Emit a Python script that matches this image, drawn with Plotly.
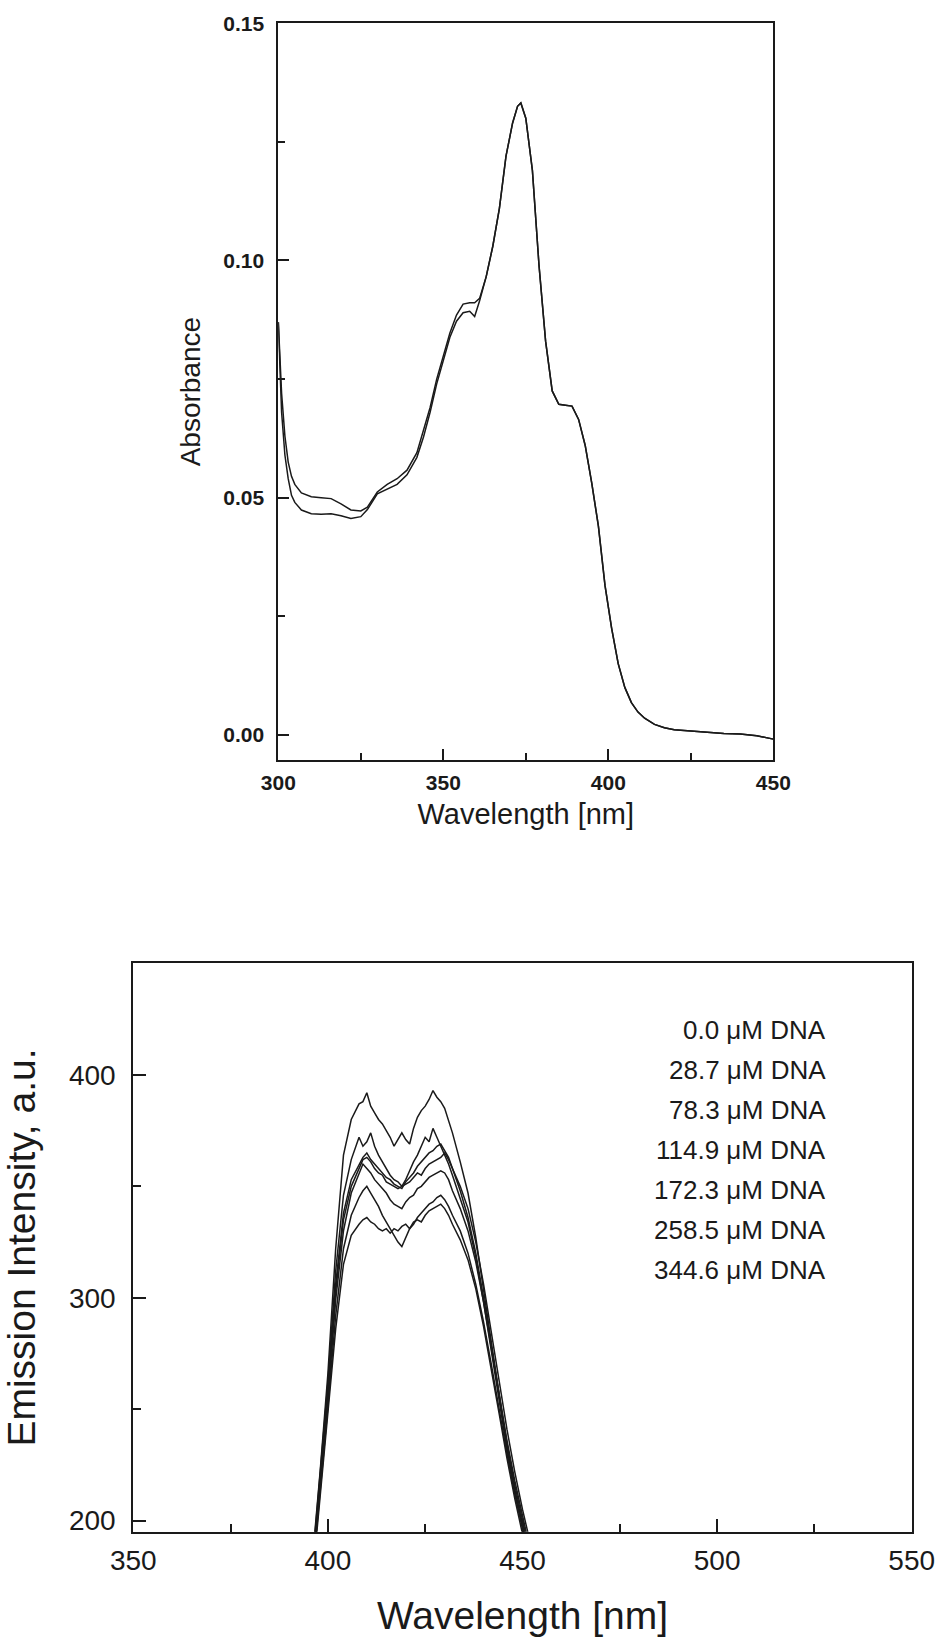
import plotly.graph_objects as go

# ---------------- Absorbance spectrum (top panel) ----------------
abs_wavelength = [300, 300.5, 301, 302, 303, 304, 305, 307, 310, 313, 316, 319, 322, 325, 327,
                  330, 333, 336, 339, 342, 344, 346, 348, 350, 352, 354, 356, 358, 359.5, 361,
                  363, 365, 367, 369, 371, 372.5, 373.5, 375, 377, 379, 381, 383, 385, 387, 389,
                  391, 393, 395, 397, 399, 401, 403, 405, 407, 409, 411, 414, 417, 420, 425,
                  430, 435, 440, 445, 450]
abs_upper = [0.087, 0.080, 0.072, 0.063, 0.0575, 0.0545, 0.0528, 0.0510, 0.0502, 0.0500, 0.0498,
             0.0487, 0.0474, 0.0472, 0.0480, 0.0512, 0.0528, 0.0540, 0.0558, 0.0595, 0.0640,
             0.0690, 0.0750, 0.0800, 0.0847, 0.0885, 0.0908, 0.0911, 0.0911, 0.0920, 0.0966,
             0.1030, 0.1110, 0.1220, 0.1290, 0.1325, 0.1332, 0.1300, 0.1190, 0.0990, 0.0830,
             0.0725, 0.0697, 0.0695, 0.0693, 0.0665, 0.0610, 0.0530, 0.0440, 0.0315, 0.0225,
             0.0150, 0.0100, 0.0068, 0.0048, 0.0035, 0.0022, 0.0015, 0.0011, 0.0008, 0.0005,
             0.0003, 0.0002, -0.0002, -0.0009]
abs_lower = [0.087, 0.077, 0.068, 0.059, 0.0540, 0.0505, 0.0490, 0.0474, 0.0466, 0.0465, 0.0466,
             0.0462, 0.0456, 0.0460, 0.0475, 0.0508, 0.0518, 0.0528, 0.0548, 0.0585, 0.0628,
             0.0680, 0.0740, 0.0792, 0.0838, 0.0872, 0.0890, 0.0893, 0.0882, 0.0915, 0.0966,
             0.1030, 0.1110, 0.1220, 0.1290, 0.1325, 0.1332, 0.1300, 0.1190, 0.0990, 0.0830,
             0.0725, 0.0697, 0.0695, 0.0693, 0.0665, 0.0610, 0.0530, 0.0440, 0.0315, 0.0225,
             0.0150, 0.0100, 0.0068, 0.0048, 0.0035, 0.0022, 0.0015, 0.0011, 0.0008, 0.0005,
             0.0003, 0.0002, -0.0002, -0.0009]

# ---------------- Emission spectra (bottom panel) ----------------
em_wavelength = [396, 398, 400, 402, 404, 406, 408, 409, 410, 411, 412, 413, 414, 415, 416, 417,
                 418, 419, 420, 421, 422, 423, 424, 425, 426, 427, 428, 429, 430, 431, 432, 434,
                 436, 438, 440, 442, 444, 446, 448, 450, 452, 455]
dna_labels = ["0.0 μM DNA", "28.7 μM DNA", "78.3 μM DNA", "114.9 μM DNA",
              "172.3 μM DNA", "258.5 μM DNA", "344.6 μM DNA"]
em_0_0 = [182, 222, 266, 322, 364, 380, 387, 388, 392, 386, 383, 380, 378, 375, 372, 368, 371,
          374, 371, 369, 376, 381, 384, 386, 389, 393, 390, 388, 385, 380, 374, 361, 347, 327,
          303, 280, 255, 233, 214, 199, 184, 160]
em_28_7 = [180, 220, 262, 312, 346, 362, 372, 368, 370, 374, 368, 364, 361, 358, 355, 353, 352,
           350, 353, 357, 361, 364, 368, 372, 370, 376, 372, 368, 364, 360, 355, 345, 334, 318,
           298, 276, 253, 232, 213, 197, 182, 158]
em_78_3 = [178, 218, 259, 306, 338, 353, 360, 363, 365, 362, 360, 358, 356, 354, 353, 351, 350,
           349, 352, 354, 356, 359, 361, 363, 365, 366, 368, 369, 366, 363, 358, 348, 336, 320,
           300, 278, 256, 235, 216, 200, 185, 161]
em_114_9 = [177, 216, 257, 303, 335, 350, 358, 362, 363, 361, 358, 356, 355, 352, 351, 350, 349,
            350, 351, 352, 354, 356, 355, 358, 360, 361, 362, 363, 365, 362, 358, 350, 340, 325,
            306, 284, 262, 241, 222, 205, 190, 166]
em_172_3 = [176, 214, 254, 299, 330, 347, 356, 360, 358, 356, 353, 351, 349, 347, 344, 342, 341,
            340, 343, 345, 346, 349, 350, 352, 354, 355, 356, 357, 356, 353, 348, 340, 330, 316,
            298, 277, 256, 236, 218, 202, 187, 163]
em_258_5 = [175, 212, 251, 292, 322, 337, 345, 348, 350, 347, 344, 341, 337, 334, 331, 328, 325,
            323, 327, 331, 333, 336, 338, 340, 342, 343, 345, 346, 344, 341, 337, 330, 320, 306,
            289, 270, 250, 230, 212, 196, 181, 157]
em_344_6 = [173, 210, 248, 286, 315, 328, 333, 335, 336, 334, 333, 331, 330, 331, 329, 331, 330,
            332, 333, 331, 334, 335, 334, 337, 339, 340, 341, 342, 340, 337, 333, 326, 317, 304,
            287, 268, 248, 228, 210, 194, 179, 155]
em_series = [em_0_0, em_28_7, em_78_3, em_114_9, em_172_3, em_258_5, em_344_6]

# Figure fills the whole 940x1640 window (body margin removed by post_script below).
W, H, OFF = 940, 1640, 0


def fx(px):
    return (px - OFF) / W


def fy(py):
    return 1 - (py - OFF) / H


fig = go.Figure()

for ys in (abs_upper, abs_lower):
    fig.add_trace(go.Scatter(x=abs_wavelength, y=ys, mode="lines", xaxis="x", yaxis="y",
                             line=dict(color="#1a1a1a", width=1.5), showlegend=False,
                             hoverinfo="skip"))

for name, ys in zip(dna_labels, em_series):
    fig.add_trace(go.Scatter(x=em_wavelength, y=ys, mode="lines", xaxis="x2", yaxis="y2",
                             name=name, line=dict(color="#1a1a1a", width=1.5),
                             showlegend=False))

FONT = "Liberation Sans, Arial, sans-serif"
INK = "#1a1a1a"
axis_common = dict(showline=True, linecolor=INK, linewidth=2, mirror=True,
                   ticks="inside", tickcolor=INK, tickwidth=2, showgrid=False,
                   zeroline=False, automargin=False)

fig.update_layout(
    width=W, height=H,
    margin=dict(l=0, r=0, t=0, b=0, autoexpand=False),
    paper_bgcolor="white", plot_bgcolor="white",
    font=dict(family=FONT, color=INK),
    xaxis=dict(**axis_common, domain=[fx(278.3), fx(773.3)], anchor="y", range=[300, 450],
               tickvals=[300, 350, 400, 450], ticklen=11,
               minor=dict(ticks="inside", ticklen=7, tickwidth=2, tickcolor=INK, dtick=25),
               tickfont=dict(size=21, family=FONT, weight="bold"), ticklabelstandoff=3,
               title=dict(text="Wavelength [nm]", font=dict(size=29, family=FONT), standoff=10)),
    yaxis=dict(**axis_common, domain=[fy(760), fy(23.3)], anchor="x", range=[-0.0053, 0.15],
               tickvals=[0.0, 0.05, 0.10, 0.15], ticktext=["0.00", "0.05", "0.10", "0.15"],
               ticklen=11,
               minor=dict(ticks="inside", ticklen=7, tickwidth=2, tickcolor=INK, dtick=0.025),
               tickfont=dict(size=21, family=FONT, weight="bold"), ticklabelstandoff=8,
               title=dict(text="Absorbance", font=dict(size=28, family=FONT), standoff=14)),
    xaxis2=dict(**axis_common, domain=[fx(133.3), fx(911.7)], anchor="y2", range=[350, 550],
                tickvals=[350, 400, 450, 500, 550], ticklen=13, ticklabeloverflow="allow",
                minor=dict(ticks="inside", ticklen=8, tickwidth=2, tickcolor=INK, dtick=25),
                tickfont=dict(size=28, family=FONT), ticklabelstandoff=3,
                title=dict(text="Wavelength [nm]", font=dict(size=39, family=FONT), standoff=26)),
    yaxis2=dict(**axis_common, domain=[fy(1531.7), fy(963.3)], anchor="x2", range=[195, 450.1],
                tickvals=[200, 300, 400], ticklen=13,
                minor=dict(ticks="inside", ticklen=8, tickwidth=2, tickcolor=INK, dtick=50),
                tickfont=dict(size=28, family=FONT), ticklabelstandoff=10,
                title=dict(text="Emission Intensity, a.u.", font=dict(size=39, family=FONT),
                           standoff=22)),
)

# Text-only legend (right-aligned list of DNA concentrations)
legend_y0 = 1030
for i, name in enumerate(dna_labels):
    fig.add_annotation(text=name, xref="paper", yref="paper", x=fx(828),
                       y=fy(legend_y0 + 40 * i), xanchor="right", yanchor="middle",
                       showarrow=False, font=dict(size=26, family=FONT, color=INK))

fig.write_html("out.html",
               config={"displayModeBar": False},
               post_script="document.body.style.margin='0px';"
                           "document.body.style.overflow='hidden';")
